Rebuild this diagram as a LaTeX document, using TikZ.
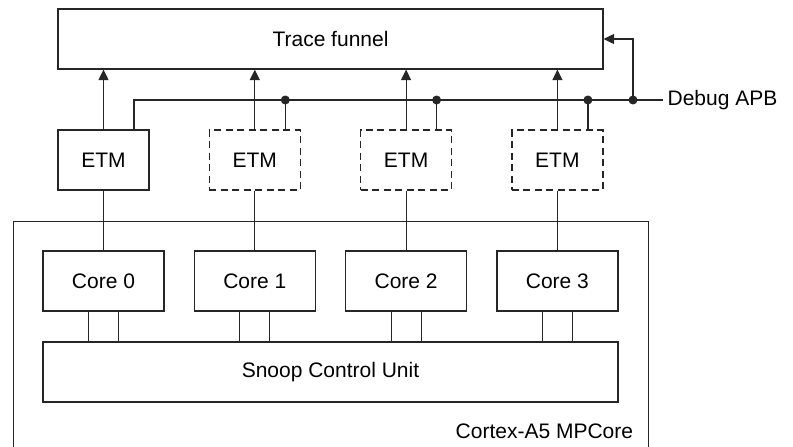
\documentclass[tikz,border=0pt]{standalone}
\usepackage{fontspec}
\setmainfont{Liberation Sans}
\usetikzlibrary{arrows.meta}
\begin{document}
\begin{tikzpicture}[x=1pt,y=-1pt,line width=1.2pt,
  font=\fontsize{21}{25}\selectfont,color=black!85,
  blk/.style={draw,rectangle,inner sep=0pt,minimum height=60pt,text=black},
  etmbox/.style={blk,minimum width=91pt},
  etmopt/.style={etmbox,dash pattern=on 7pt off 4.5pt},
  corebox/.style={blk,minimum width=121pt},
  arr/.style={-{Triangle[length=10.5pt,width=10pt]}},
  dot/.style={circle,fill,inner sep=0pt,minimum size=9pt}]
\clip (0,0) rectangle (793,447);
\useasboundingbox (0,0) rectangle (793,447);
% container
\node[draw,rectangle,inner sep=0pt,minimum width=635pt,minimum height=260pt,anchor=north west] (mp) at (13,221) {};
\node[anchor=east,text=black] (mplbl) at (637,431) {Cortex-A5 MPCore};
% trace funnel
\node[blk,minimum width=545pt] (tf) at (330.5,39) {Trace funnel};
% ETMs
\node[etmbox] (e0) at (103.5,160) {ETM};
\node[etmopt] (e1) at (254.8,160) {ETM};
\node[etmopt] (e2) at (406.1,160) {ETM};
\node[etmopt] (e3) at (557.4,160) {ETM};
% cores
\node[corebox] (c0) at (103.5,281) {Core 0};
\node[corebox] (c1) at (254.8,281) {Core 1};
\node[corebox] (c2) at (406.1,281) {Core 2};
\node[corebox] (c3) at (557.4,281) {Core 3};
% SCU
\node[blk,minimum width=575pt] (scu) at (330.5,372) {Snoop Control Unit};
% debug bus
\coordinate (apb) at (663,100);
\node[anchor=west,inner sep=0pt,text=black] (apblbl) at (667,100) {Debug APB};
\draw ([xshift=30.5pt]e0.north) |- (apb);
\foreach \i in {1,2,3}{
  \node[dot] (d\i) at ([xshift=30.5pt]e\i.north |- apb) {};
  \draw ([xshift=30.5pt]e\i.north) -- (d\i.center);
}
\node[dot] (d4) at (633,100) {};
\draw[arr] (d4.center) |- (tf.east);
% ETM to funnel and cores
\foreach \i in {0,1,2,3}{
  \draw[arr] (e\i.north) -- (e\i.north |- tf.south);
  \draw (e\i.south) -- (c\i.north);
  \draw ([xshift=-15pt]c\i.south) -- ([xshift=-15pt]c\i.south |- scu.north);
  \draw ([xshift=15pt]c\i.south) -- ([xshift=15pt]c\i.south |- scu.north);
}
\end{tikzpicture}
\end{document}
